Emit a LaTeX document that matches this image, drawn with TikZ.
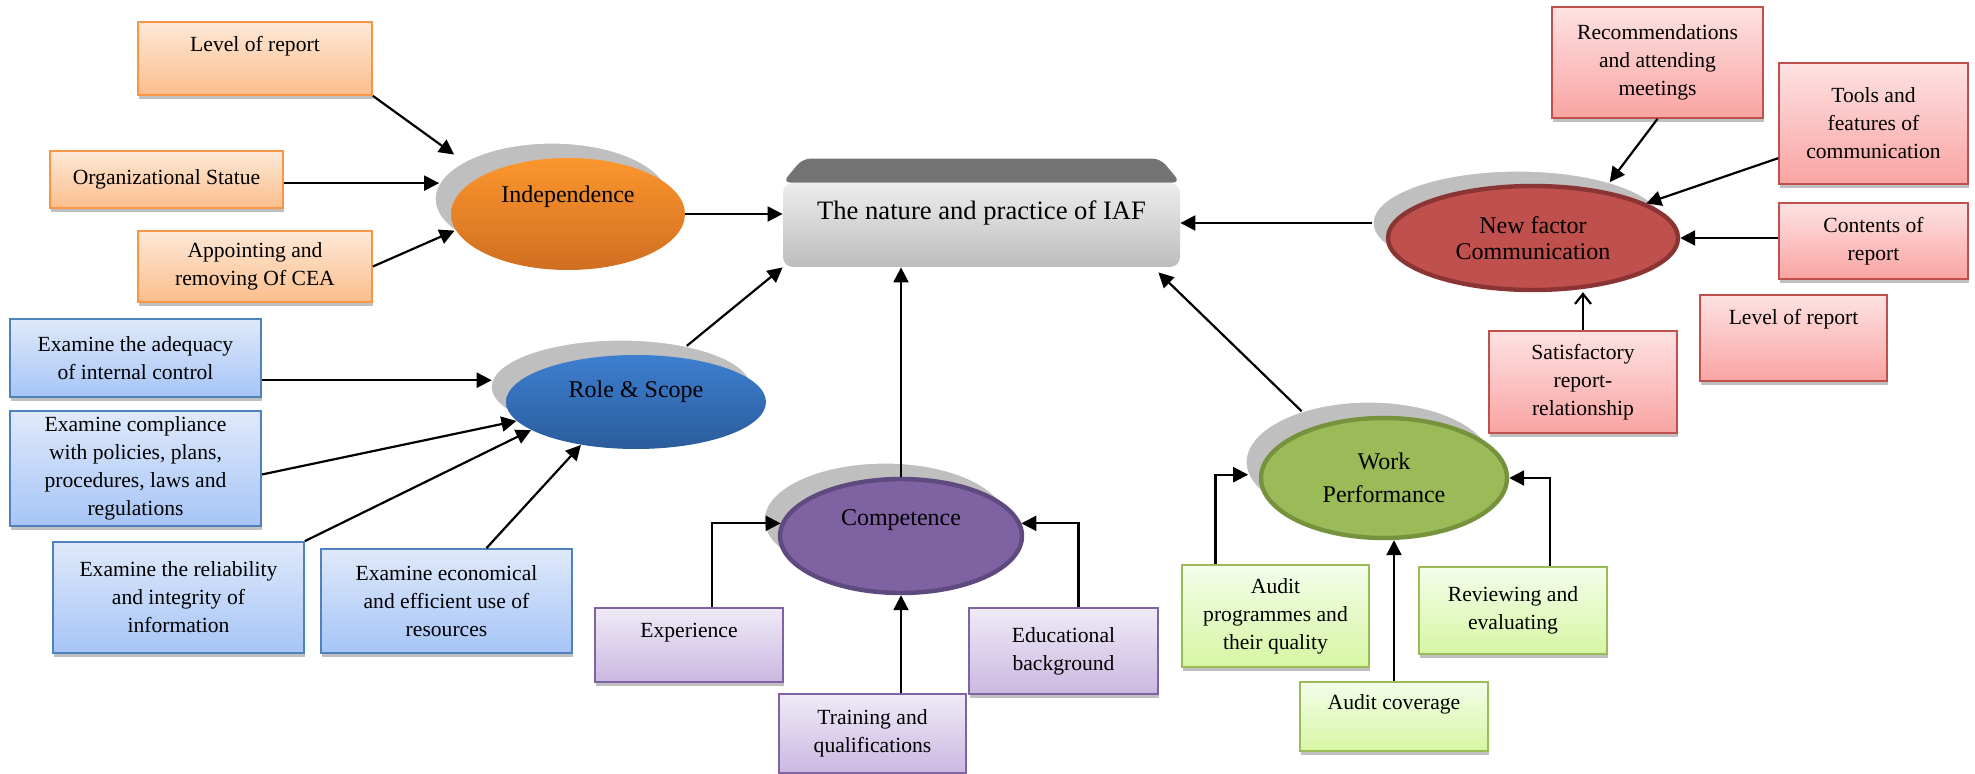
\documentclass[tikz,border=0pt]{standalone}
\usepackage{fontspec}
\setmainfont{Liberation Serif}
\usetikzlibrary{arrows.meta,shapes.geometric,shadows,calc}

\definecolor{orTop}{HTML}{FDE8D7}
\definecolor{orBot}{HTML}{FBBE8C}
\definecolor{orLine}{HTML}{F79646}
\definecolor{blTop}{HTML}{DFE9FA}
\definecolor{blBot}{HTML}{A6C5F7}
\definecolor{blLine}{HTML}{4F81BD}
\definecolor{puTop}{HTML}{EFEAF6}
\definecolor{puBot}{HTML}{CAB8E1}
\definecolor{puLine}{HTML}{8064A2}
\definecolor{reTop}{HTML}{FDE2E2}
\definecolor{reBot}{HTML}{F9A4A2}
\definecolor{reLine}{HTML}{C0504D}
\definecolor{grTop}{HTML}{F4FDEA}
\definecolor{grBot}{HTML}{D6F6A3}
\definecolor{grLine}{HTML}{9BBB59}
\definecolor{shGray}{HTML}{BFBFBF}

\begin{document}
\begin{tikzpicture}[x=0.5pt,y=-0.5pt,
  arr/.style={-{Triangle[length=7.5pt,width=7.5pt]},line width=1.1pt},
  barb/.style={-{Straight Barb[length=5pt,width=8pt]},line width=1.1pt},
  box/.style={rectangle,line width=0.9pt,align=center,inner sep=1pt,
    font=\fontsize{10.8}{14}\selectfont,
    drop shadow={shadow xshift=0.6pt,shadow yshift=-2pt,fill=black!25,opacity=1}},
  obox/.style={box,draw=orLine,top color=orTop,bottom color=orBot},
  bbox/.style={box,draw=blLine,top color=blTop,bottom color=blBot},
  pbox/.style={box,draw=puLine,top color=puTop,bottom color=puBot},
  rbox/.style={box,draw=reLine,top color=reTop,bottom color=reBot},
  gbox/.style={box,draw=grLine,top color=grTop,bottom color=grBot},
  oval/.style={ellipse,inner sep=0pt,align=center,font=\fontsize{12}{13}\selectfont},
  ovalS/.style={ellipse,inner sep=0pt,fill=shGray,draw=white,line width=0.6pt},
]
\useasboundingbox (0,0) rectangle (1975,774);

\node[rectangle,rounded corners=5pt,top color=black!7,bottom color=black!26,
  minimum width=198.5pt,minimum height=42pt,text depth=15pt,
  font=\fontsize{13.3}{16}\selectfont] (main) at (981.5,225) {The nature and practice of IAF};
\fill[black!55,rounded corners=4pt] (main.north west) -- ($(main.north west)+(20,-24)$)
  -- ($(main.north east)+(-20,-24)$) -- (main.north east) -- cycle;

\node[ovalS,minimum width=117pt,minimum height=56pt] (indepS) at (552,199) {};
\node[oval,top color={rgb,255:red,252;green,150;blue,46},bottom color={rgb,255:red,208;green,110;blue,32},
  minimum width=117pt,minimum height=56pt,text depth=19.5pt] (indep) at (568,214) {Independence};

\node[ovalS,minimum width=130pt,minimum height=47pt] (roleS) at (621,387) {};
\node[oval,top color={rgb,255:red,61;green,127;blue,208},bottom color={rgb,255:red,43;green,92;blue,155},
  minimum width=130pt,minimum height=47pt,text depth=12.5pt] (role) at (636,402) {Role \& Scope};

\node[ovalS,minimum width=121pt,minimum height=57pt] (compS) at (885,520) {};
\node[oval,fill={rgb,255:red,127;green,98;blue,161},draw={rgb,255:red,94;green,74;blue,126},line width=2.2pt,
  minimum width=121pt,minimum height=57pt,text depth=18.5pt] (comp) at (901,536) {Competence};

\node[ovalS,minimum width=145pt,minimum height=52pt] (commS) at (1518,223) {};
\node[oval,fill=reLine,draw={rgb,255:red,138;green,53;blue,51},line width=2.2pt,
  minimum width=145pt,minimum height=52pt] (comm) at (1533,238) {New factor\\Communication};

\node[ovalS,minimum width=123pt,minimum height=60pt] (workS) at (1369,462) {};
\node[oval,fill=grLine,draw={rgb,255:red,118;green,146;blue,60},line width=2.2pt,
  minimum width=123pt,minimum height=60pt] (work) at (1384,478) {Work\\[3.5pt]Performance};

\node[obox,minimum width=117pt,minimum height=36.5pt,text depth=14.5pt] (lvlA) at (255,58.5) {Level of report};
\node[obox,minimum width=116.5pt,minimum height=28.5pt] (org) at (166.5,179.5) {Organizational Statue};
\node[obox,minimum width=117pt,minimum height=35.5pt] (appt) at (255,266.5) {Appointing and\\removing Of CEA};

\node[bbox,minimum width=125.5pt,minimum height=39pt] (adeq) at (135.5,358) {Examine the adequacy\\of internal control};
\node[bbox,minimum width=125.5pt,minimum height=57.5pt] (compl) at (135.5,468.5) {Examine compliance\\with policies, plans,\\procedures, laws and\\regulations};
\node[bbox,minimum width=125.5pt,minimum height=55.5pt] (relia) at (178.5,597.5) {Examine the reliability\\and integrity of\\information};
\node[bbox,minimum width=125.5pt,minimum height=52pt] (econ) at (446.5,601) {Examine economical\\and efficient use of\\resources};

\node[pbox,minimum width=94pt,minimum height=37pt,text depth=14.5pt] (exper) at (689,645) {Experience};
\node[pbox,minimum width=93.5pt,minimum height=39.5pt] (train) at (872.5,733.5) {Training and\\qualifications};
\node[pbox,minimum width=94.5pt,minimum height=43pt] (edu) at (1063.5,651) {Educational\\background};

\node[rbox,minimum width=105.5pt,minimum height=55.5pt] (rec) at (1657.5,62.5) {Recommendations\\and attending\\meetings};
\node[rbox,minimum width=94.5pt,minimum height=60.5pt] (tools) at (1873.5,123.5) {Tools and\\features of\\communication};
\node[rbox,minimum width=94.5pt,minimum height=38pt] (cont) at (1873.5,241) {Contents of\\report};
\node[rbox,minimum width=93.5pt,minimum height=43pt,text depth=21.5pt] (lvlB) at (1793.5,338) {Level of report};
\node[rbox,minimum width=94pt,minimum height=51pt] (sat) at (1583,382) {Satisfactory\\report-\\relationship};

\node[gbox,minimum width=93.5pt,minimum height=51pt] (prog) at (1275.5,616) {Audit\\programmes and\\their quality};
\node[gbox,minimum width=94pt,minimum height=43.5pt] (rev) at (1513,610.5) {Reviewing and\\evaluating};
\node[gbox,minimum width=94pt,minimum height=34.5pt,text depth=14pt] (cover) at (1394,716.5) {Audit coverage};

\draw[arr,shorten >=6pt] (lvlA.south east) -- (indepS.157);
\draw[arr] (org.east |- indepS.172) -- (indepS.172);
\draw[arr] (appt.east) -- (indepS.198);
\draw[arr] (indep.east) -- (indep.east -| main.west);

\draw[arr] (adeq.east |- roleS.177) -- (roleS.177);
\draw[arr] ([yshift=-3pt]compl.east) -- (role.189);
\draw[arr] (relia.north east) -- (role.195);
\draw[arr] ([xshift=20pt]econ.north) -- (role.218);
\draw[arr] (roleS.32) -- (main.south west);

\draw[arr] ([xshift=11.5pt]exper.north) |- (comp.174);
\draw[arr] ([xshift=7.5pt]edu.north) |- (comp.6);
\draw[arr] (train.north -| comp.south) -- (comp.south);
\draw[arr] (comp.north) -- (comp.north |- main.south);

\draw[arr] ([xshift=-30pt]prog.north) |- (workS.186);
\draw[arr] (cover.north) -- (cover.north |- work.south);
\draw[arr] ([xshift=18.5pt]rev.north) |- (work.east);
\draw[arr] (workS.143) -- ([xshift=-11pt,yshift=-2.5pt]main.south east);

\draw[arr] (rec.south) -- (commS.24);
\draw[arr] (tools.200) -- (comm.17);
\draw[arr] (cont.west |- comm.east) -- (comm.east);
\draw[barb] (sat.north) -- (sat.north |- comm.south);
\draw[arr] (commS.west) -- (commS.west -| main.east);
\end{tikzpicture}
\end{document}
